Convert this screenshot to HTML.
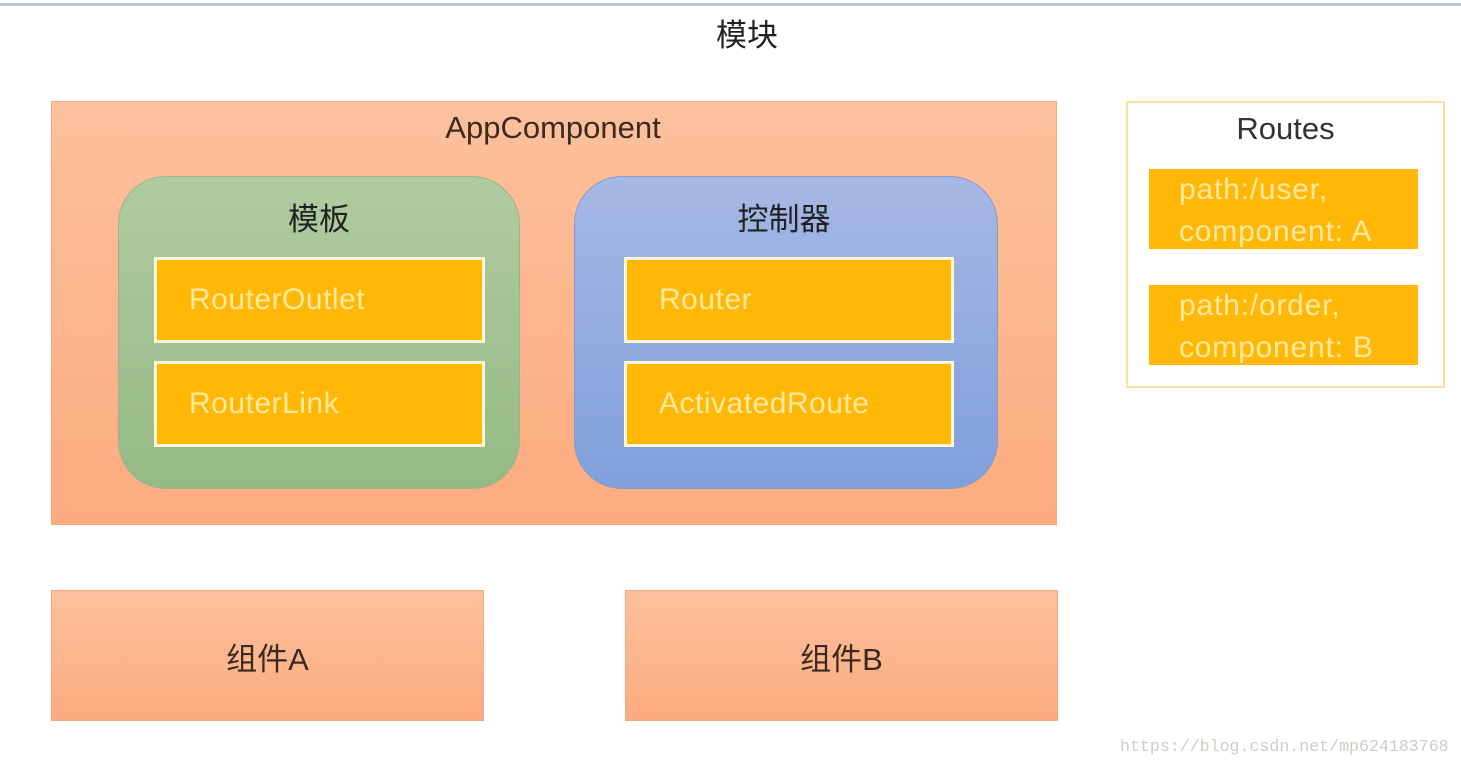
<!DOCTYPE html>
<html><head><meta charset="utf-8"><style>
*{margin:0;padding:0;box-sizing:border-box}
body{width:1461px;height:767px;background:#fff;position:relative;overflow:hidden;font-family:"Liberation Sans","Noto Sans CJK SC",sans-serif}
div{position:absolute}
.t{color:#222;white-space:nowrap}
.o{background:#ffb805;border:3px solid #fff8d8;color:#ffe9a0;font-size:30px;letter-spacing:0.5px;padding-left:32px;display:flex;align-items:center}
.peach{background:linear-gradient(#fdc19d,#fcab7f);border:1px solid #f0a880}
.r{background:#ffb805;color:#ffe9a0;font-size:30px;letter-spacing:0.8px;line-height:42px;padding-left:30px;white-space:nowrap}
</style></head><body>
<div style="left:0;top:3px;width:1461px;height:3px;background:#b9c9d9"></div>
<div class="t" style="left:716px;top:10px;font-size:31px">模块</div>

<div class="peach" style="left:51px;top:101px;width:1006px;height:424px"></div>
<div class="t" style="left:0;width:1106px;text-align:center;top:110px;font-size:31px;color:#3a2a20">AppComponent</div>

<div style="left:118px;top:176px;width:402px;height:313px;border-radius:48px;background:linear-gradient(#b0cba0,#94ba86);border:1px solid #9ab58a"></div>
<div class="t" style="left:118px;width:402px;text-align:center;top:194px;font-size:31px">模板</div>
<div class="o" style="left:154px;top:257px;width:331px;height:86px">RouterOutlet</div>
<div class="o" style="left:154px;top:361px;width:331px;height:86px">RouterLink</div>

<div style="left:574px;top:176px;width:424px;height:313px;border-radius:48px;background:linear-gradient(#a6b8e5,#809fdb);border:1px solid #8a9ac8"></div>
<div class="t" style="left:572px;width:424px;text-align:center;top:194px;font-size:31px">控制器</div>
<div class="o" style="left:624px;top:257px;width:330px;height:86px">Router</div>
<div class="o" style="left:624px;top:361px;width:330px;height:86px">ActivatedRoute</div>

<div style="left:1126px;top:101px;width:319px;height:287px;border:2px solid #fde0a0;background:#fff"></div>
<div class="t" style="left:1126px;width:319px;text-align:center;top:111px;font-size:31px;color:#333">Routes</div>
<div class="r" style="left:1149px;top:169px;width:269px;height:80px">path:/user,<br>component: A</div>
<div class="r" style="left:1149px;top:285px;width:269px;height:80px">path:/order,<br>component: B</div>

<div class="peach" style="left:51px;top:590px;width:433px;height:131px"></div>
<div class="t" style="left:51px;width:433px;text-align:center;top:634px;font-size:31px;color:#3a2a20">组件A</div>
<div class="peach" style="left:625px;top:590px;width:433px;height:131px"></div>
<div class="t" style="left:625px;width:433px;text-align:center;top:634px;font-size:31px;color:#3a2a20">组件B</div>

<div class="t" style="left:1120px;top:737px;font-size:16.6px;font-family:'Liberation Mono',monospace;color:#d0ccc4">https://blog.csdn.net/mp624183768</div>
</body></html>
